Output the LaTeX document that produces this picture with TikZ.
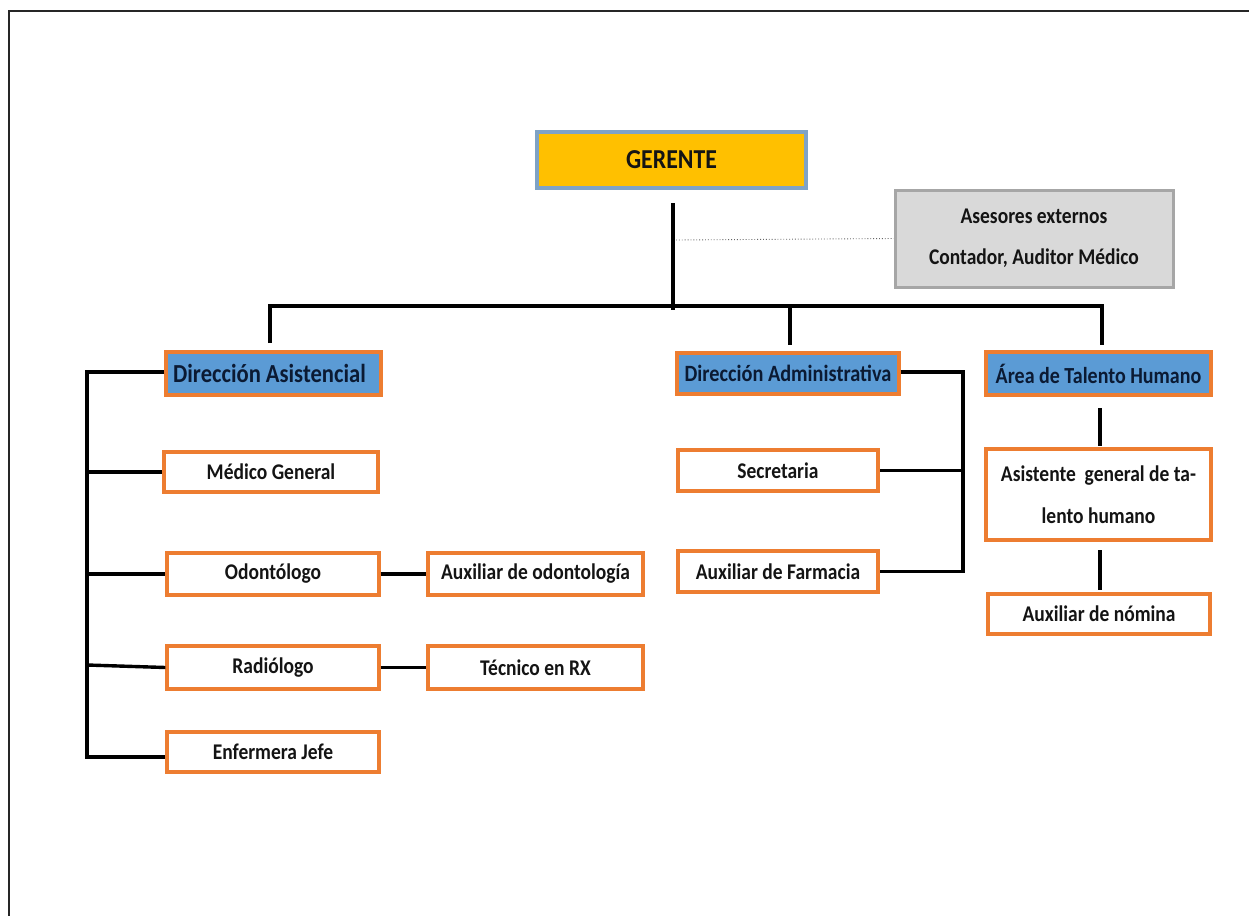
\documentclass[tikz,border=0pt]{standalone}
\usepackage{fontspec}
\usepackage{graphicx}
\setmainfont{Carlito}
\definecolor{borange}{HTML}{ED7D31}
\definecolor{bblue}{HTML}{5B9BD5}
\definecolor{gold}{HTML}{FFC000}
\definecolor{gborder}{HTML}{7FA3C6}
\definecolor{agray}{HTML}{D9D9D9}
\definecolor{abord}{HTML}{A6A6A6}
\definecolor{navy}{HTML}{0B1A33}
\newcommand\vs[1]{\scalebox{1}[1.15]{#1}}
\tikzset{
  obox/.style={draw=borange, line width=3.2pt, fill=white, inner sep=1pt,
    font=\fontsize{19.5}{22}\selectfont\bfseries, text=black!92, align=center},
  bbox/.style={obox, fill=bblue, text=navy},
  conn/.style={line width=3.4pt, black},
}
\begin{document}
\begin{tikzpicture}[x=1pt,y=-1pt]
\useasboundingbox (0,0) rectangle (1249,915);
\draw[line width=2.8pt, black!85] (9,930) -- (9,11) -- (1260,11);

% top
\node[draw=gborder, line width=3.4pt, fill=gold, minimum width=269, minimum height=56,
  font=\fontsize{23.8}{26}\selectfont\bfseries, text=black!92] (ger) at (671.5,160) {\vs{GERENTE}};
\node[draw=abord, line width=3pt, fill=agray, minimum width=278, minimum height=97,
  font=\fontsize{19.5}{41}\selectfont\bfseries, text=black!92, align=center] (ases) at (1034,238.5)
  {\vs{Asesores externos}\\\vs{Contador, Auditor Médico}};

% level 2
\node[bbox, minimum width=215, minimum height=43, font=\fontsize{22.6}{26}\selectfont\bfseries] (dasis) at (273.5,373.5) {\hspace*{-8pt}\vs{Dirección Asistencial}};
\node[bbox, minimum width=222, minimum height=41, font=\fontsize{20.3}{24}\selectfont\bfseries] (dadm) at (788,373.5) {\vs{Dirección Administrativa}};
\node[bbox, minimum width=225, minimum height=43, font=\fontsize{20}{24}\selectfont\bfseries] (dtal) at (1098.5,373.5) {\vs{Área de Talento Humano}};

% left column
\node[obox, minimum width=214, minimum height=40] (med) at (271,472) {\vs{Médico General}};
\node[obox, minimum width=212, minimum height=42] (odo) at (273,574) {\vs{Odontólogo}};
\node[obox, minimum width=215, minimum height=42] (auxo) at (535.5,574) {\vs{Auxiliar de odontología}};
\node[obox, minimum width=212, minimum height=43] (rad) at (273,667.5) {\vs{Radiólogo}};
\node[obox, minimum width=215, minimum height=43] (tec) at (535.5,667.5) {\vs{Técnico en RX}};
\node[obox, minimum width=212, minimum height=40] (enf) at (273,752) {\vs{Enfermera Jefe}};

% middle column
\node[obox, minimum width=200, minimum height=41] (sec) at (778,470.5) {\vs{Secretaria}};
\node[obox, minimum width=200, minimum height=41] (farm) at (778,571.5) {\vs{Auxiliar de Farmacia}};

% right column
\node[obox, minimum width=225, minimum height=91, font=\fontsize{19.5}{42}\selectfont\bfseries] (asis) at (1098.5,494.5) {\vs{Asistente\ \ general de ta-}\\\vs{lento humano}};
\node[obox, minimum width=222, minimum height=40] (nom) at (1099,614) {\vs{Auxiliar de nómina}};

% connectors top
\coordinate (gtop) at (673,203);
\coordinate (gbot) at (673,310);
\coordinate (gdot) at (676,240);
\coordinate (busL) at (270,306);
\coordinate (busR) at (1102,306);
\coordinate (tL) at (270,343);
\coordinate (tMa) at (790,306);
\coordinate (tMb) at (790,345);
\coordinate (tRb) at (1102,345);
\draw[conn] (gtop) -- (gbot);
\draw[conn] (tL) -- (busL) -- (busR) -- (tRb);
\draw[conn] (tMa) -- (tMb);
\draw[line width=0.9pt, black!60, dotted] (gdot) -- (ases.west);

% left bracket
\coordinate (lTop) at (87,372);
\coordinate (lBot) at (87,757);
\draw[conn] (dasis.west |- lTop) -- (lTop) -- (lBot) -- (enf.west |- lBot);
\draw[conn] (lTop |- med.west) -- (med.west);
\draw[conn] (lTop |- odo.west) -- (odo.west);
\draw[conn] (87,665) -- (rad.west);
\draw[conn] (odo.east) -- (auxo.west);
\draw[conn] (rad.east) -- (tec.west);

% right bracket
\coordinate (rTop) at (963,372);
\coordinate (rBot) at (963,571.5);
\draw[conn] (dadm.east |- rTop) -- (rTop) -- (rBot) -- (farm.east);
\draw[conn] (rTop |- sec.east) -- (sec.east);

% talento
\coordinate (t1a) at (1100,408);
\coordinate (t1b) at (1100,446);
\coordinate (t2a) at (1100,550);
\coordinate (t2b) at (1100,590);
\draw[conn] (t1a) -- (t1b);
\draw[conn] (t2a) -- (t2b);
\end{tikzpicture}
\end{document}
